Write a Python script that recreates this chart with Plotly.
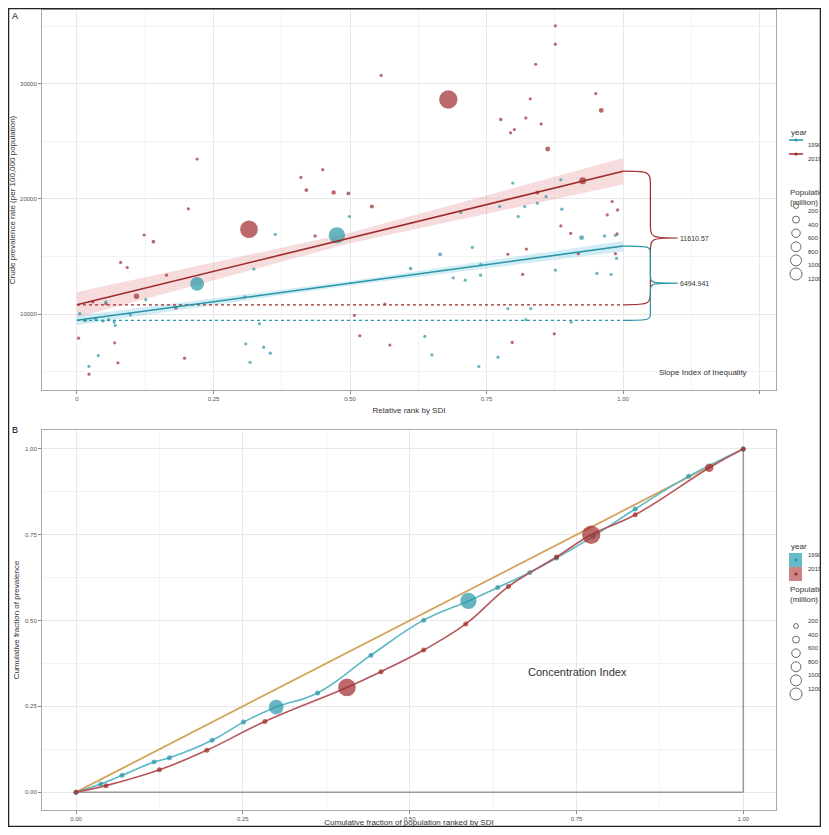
import plotly.graph_objects as go

# ---------------- data: panel A (rank, prevalence, population in million) ----------------
x19 = [0.68, 0.315, 0.926, 0.96, 0.862, 0.776, 0.47, 0.497, 0.42, 0.54, 0.45, 0.41, 0.436, 0.14, 0.109,
       0.181, 0.204, 0.22, 0.99, 0.98, 0.886, 0.904, 0.843, 0.816, 0.789, 0.986, 0.918, 0.518, 0.573,
       0.564, 0.508, 0.069, 0.075, 0.022, 0.197, 0.874, 0.797, 0.822, 0.83, 0.794, 0.801, 0.85, 0.95,
       0.557, 0.876, 0.876, 0.84, 0.003, 0.029, 0.053, 0.092, 0.08, 0.123, 0.164, 0.989, 0.823, 0.971]
y19 = [28630, 17360, 21570, 27680, 24330, 26890, 20550, 20470, 20760, 19330, 22530, 21860, 16770, 16280,
       11540, 10550, 19130, 23460, 19040, 19770, 17650, 17000, 20550, 13440, 15190, 15240, 15240, 8110,
       7300, 10870, 9880, 7500, 5760, 4770, 6160, 8280, 7530, 27030, 28690, 25730, 26020, 26510, 29140,
       30720, 35030, 33430, 31690, 7900, 11050, 10900, 14040, 14480, 16860, 13370, 16950, 15640, 18600]
p19 = [1400, 1300, 200, 100, 100, 50, 80, 60, 60, 70, 30, 30, 50, 60, 120, 60, 20, 10, 40, 20, 30, 20,
       60, 40, 20, 20, 20, 40, 30, 30, 10, 20, 15, 10, 10, 20, 10, 10, 10, 10, 10, 10, 10, 5, 5, 5, 5,
       15, 30, 30, 20, 20, 20, 20, 20, 20, 20]

x90 = [0.476, 0.22, 0.924, 0.966, 0.843, 0.798, 0.665, 0.611, 0.739, 0.689, 0.711, 0.724, 0.774, 0.82,
       0.808, 0.888, 0.876, 0.988, 0.952, 0.126, 0.098, 0.015, 0.034, 0.048, 0.058, 0.068, 0.005, 0.07,
       0.053, 0.324, 0.309, 0.342, 0.354, 0.317, 0.334, 0.363, 0.637, 0.65, 0.736, 0.039, 0.022, 0.789,
       0.822, 0.905, 0.739, 0.831, 0.771, 0.859, 0.886, 0.986, 0.978, 0.703, 0.499, 0.307]
y90 = [16830, 12620, 16630, 16770, 19620, 21370, 15170, 13950, 13370, 13140, 12940, 15780, 19330, 19330,
       18460, 19100, 13810, 14830, 13520, 11250, 9940, 9450, 9590, 9390, 9510, 9300, 10030, 9010, 11050,
       13900, 7410, 7120, 6600, 5810, 9160, 16920, 8050, 6450, 5440, 6390, 5460, 10470, 9510, 9300, 14300,
       10470, 6250, 20200, 21660, 16830, 13430, 18810, 18460, 11480]
p90 = [1100, 800, 100, 50, 40, 30, 60, 50, 30, 30, 30, 20, 20, 20, 20, 20, 20, 20, 20, 40, 30, 60, 60,
       40, 40, 30, 30, 30, 40, 20, 20, 20, 20, 15, 15, 15, 30, 15, 10, 15, 10, 20, 20, 20, 20, 10, 10, 20,
       10, 15, 15, 15, 10, 10]

# fitted SII lines (value at rank 0 and rank 1) and band half-widths
fit19 = [10800, 22400]
fit90 = [9450, 15900]
band19 = [1100, 450, 1150]
band90 = [400, 200, 450]
sii19 = "11610.57"
sii90 = "6494.941"

# ---------------- data: panel B (cumulative population, cumulative prevalence) ----------------
cx90 = [0, 0.037, 0.069, 0.117, 0.14, 0.204, 0.251, 0.3, 0.362, 0.442, 0.521, 0.588, 0.632, 0.68,
        0.72, 0.775, 0.838, 0.918, 1.0]
cy90 = [0, 0.024, 0.049, 0.088, 0.1, 0.151, 0.204, 0.248, 0.289, 0.399, 0.501, 0.557, 0.596, 0.64,
        0.682, 0.745, 0.825, 0.92, 1.0]
cp90 = [10, 20, 20, 20, 20, 20, 20, 900, 20, 20, 20, 1100, 20, 20, 20, 20, 20, 20, 10]
cx19 = [0, 0.045, 0.125, 0.196, 0.283, 0.406, 0.457, 0.521, 0.584, 0.648, 0.72, 0.772, 0.838, 0.949, 1.0]
cy19 = [0, 0.019, 0.065, 0.122, 0.206, 0.305, 0.351, 0.414, 0.49, 0.599, 0.685, 0.75, 0.808, 0.945, 1.0]
cp19 = [10, 20, 30, 40, 20, 1300, 30, 30, 30, 20, 20, 1400, 20, 300, 10]

legend_sizes = [200, 400, 600, 800, 1000, 1200]

TEAL = "#2795a6"
RED = "#9e2a2b"
SREF = 8.3

# the page body has an 8px margin, so the figure is drawn 8px in from each edge
OFF = 8
W, H = 829 - 2 * OFF, 835 - 2 * OFF
def px(v):
    return (v - OFF) / W
def py(v):
    return 1 - (v - OFF) / H

fig = go.Figure()

# ---- panel A ----
xs = [0, 0.5, 1]
for fit, band, col, fill in [(fit19, band19, RED, "rgba(225,140,140,0.3)"),
                             (fit90, band90, TEAL, "rgba(110,195,225,0.3)")]:
    mid = [fit[0] + (fit[1] - fit[0]) * t for t in xs]
    up = [m + b for m, b in zip(mid, band)]
    lo = [m - b for m, b in zip(mid, band)]
    fig.add_trace(go.Scatter(x=xs + xs[::-1], y=up + lo[::-1], mode="lines", fill="toself",
                             fillcolor=fill, line=dict(width=0), hoverinfo="skip", showlegend=False))
for xv, yv, pv, col in [(x19, y19, p19, RED), (x90, y90, p90, TEAL)]:
    fig.add_trace(go.Scatter(x=xv, y=yv, mode="markers", showlegend=False,
                             marker=dict(color=col, size=pv, sizemode="area", sizeref=SREF, sizemin=1.6,
                                         line=dict(width=0))))
for fit, col in [(fit19, RED), (fit90, TEAL)]:
    fig.add_trace(go.Scatter(x=[0, 1], y=fit, mode="lines", line=dict(color=col, width=1.6),
                             showlegend=False))
    fig.add_trace(go.Scatter(x=[0, 1], y=[fit[0], fit[0]], mode="lines",
                             line=dict(color=col, width=1.2, dash="dot"), showlegend=False))

# braces
shapes = []
for fit, col in [(fit19, RED), (fit90, TEAL)]:
    top, bot = fit[1], fit[0]
    tip = (top + bot) / 2
    r = (top - bot) * 0.12
    path = (f"M 1,{top} C 1.05,{top} 1.05,{top} 1.05,{top - r} L 1.05,{tip + r} "
            f"C 1.05,{tip} 1.05,{tip} 1.1,{tip} C 1.05,{tip} 1.05,{tip} 1.05,{tip - r} "
            f"L 1.05,{bot + r} C 1.05,{bot} 1.05,{bot} 1,{bot}")
    shapes.append(dict(type="path", path=path, xref="x", yref="y", line=dict(color=col, width=1.2)))

annotations = [
    dict(x=1.1, y=(fit19[0] + fit19[1]) / 2, text=sii19, xref="x", yref="y", showarrow=False,
         xanchor="left", font=dict(size=7, color="#333")),
    dict(x=1.1, y=(fit90[0] + fit90[1]) / 2, text=sii90, xref="x", yref="y", showarrow=False,
         xanchor="left", font=dict(size=7, color="#333")),
    dict(x=1.147, y=4940, text="Slope Index of Inequality", xref="x", yref="y", showarrow=False,
         font=dict(size=8, color="#333")),
    dict(x=0.751, y=0.349, text="Concentration Index", xref="x2", yref="y2", showarrow=False,
         font=dict(size=11, color="#333")),
    dict(x=px(10), y=py(9), text="A", xref="paper", yref="paper", showarrow=False, xanchor="left",
         yanchor="top", font=dict(size=9, color="#000")),
    dict(x=px(10), y=py(423), text="B", xref="paper", yref="paper", showarrow=False, xanchor="left",
         yanchor="top", font=dict(size=9, color="#000")),
]

# ---- panel B ----
fig.add_trace(go.Scatter(x=[0, 1], y=[0, 0], xaxis="x2", yaxis="y2", mode="lines",
                         line=dict(color="#999", width=1.5), showlegend=False))
fig.add_trace(go.Scatter(x=[1, 1], y=[0, 1], xaxis="x2", yaxis="y2", mode="lines",
                         line=dict(color="#999", width=1.5), showlegend=False))
fig.add_trace(go.Scatter(x=[0, 1], y=[0, 1], xaxis="x2", yaxis="y2", mode="lines",
                         line=dict(color="#d4a35a", width=1.8), showlegend=False))
for cx, cy, cp, col, lc in [(cx90, cy90, cp90, TEAL, "#5bb8c6"), (cx19, cy19, cp19, RED, "#b5565a")]:
    fig.add_trace(go.Scatter(x=cx, y=cy, xaxis="x2", yaxis="y2", mode="lines",
                             line=dict(color=lc, width=1.6, shape="spline", smoothing=1.2),
                             showlegend=False))
    fig.add_trace(go.Scatter(x=cx, y=cy, xaxis="x2", yaxis="y2", mode="markers", showlegend=False,
                             marker=dict(color=col, size=cp, sizemode="area", sizeref=SREF, sizemin=2.5,
                                         line=dict(width=0))))

# ---- legends (drawn by hand, ggplot style) ----
for off, kind in [(0, "line"), (420, "fill")]:
    annotations.append(dict(x=px(789), y=py(126 + off), text="year", xref="paper", yref="paper",
                            showarrow=False, xanchor="left", font=dict(size=8, color="#333")))
    for i, (lab, col) in enumerate([("1990", TEAL), ("2019", RED)]):
        yy = 140 + off + i * 14
        if kind == "line":
            shapes.append(dict(type="line", xref="paper", yref="paper", x0=px(789), x1=px(803),
                               y0=py(yy), y1=py(yy), line=dict(color=col, width=1.5)))
        else:
            fill = "rgba(90,180,195,0.9)" if i == 0 else "rgba(190,100,100,0.8)"
            shapes.append(dict(type="rect", xref="paper", yref="paper", x0=px(789), x1=px(802),
                               y0=py(yy - 7), y1=py(yy + 7), fillcolor=fill, line=dict(width=0)))
        shapes.append(dict(type="circle", xref="paper", yref="paper", x0=px(794.5), x1=px(797.5),
                           y0=py(yy - 1.5), y1=py(yy + 1.5), fillcolor=col, line=dict(width=0)))
        annotations.append(dict(x=px(806), y=py(yy), text=lab, xref="paper", yref="paper",
                                showarrow=False, xanchor="left", font=dict(size=6, color="#333")))
    annotations.append(dict(x=px(788), y=py(186 + off), text="Population<br>(million)", xref="paper",
                            yref="paper", showarrow=False, xanchor="left", align="left",
                            font=dict(size=8, color="#333")))
    for i, s in enumerate(legend_sizes):
        yy = 206 + off + i * 13.6
        r = (s / SREF) ** 0.5 / 2
        shapes.append(dict(type="circle", xref="paper", yref="paper", x0=px(796 - r), x1=px(796 + r),
                           y0=py(yy - r), y1=py(yy + r), line=dict(color="#444", width=0.8)))
        annotations.append(dict(x=px(806), y=py(yy), text=str(s), xref="paper", yref="paper",
                                showarrow=False, xanchor="left", font=dict(size=6, color="#333")))

# outer frame
shapes.append(dict(type="rect", xref="paper", yref="paper", x0=0, x1=1, y0=0, y1=1,
                   line=dict(color="#222", width=2.5)))

tickfont = dict(size=6, color="#555")
axis_common = dict(showline=True, mirror=True, linecolor="#aaa", linewidth=1, ticks="outside",
                   ticklen=3, tickcolor="#888", gridcolor="#e8e8e8", zeroline=False,
                   tickfont=tickfont, automargin=False)

fig.update_layout(
    width=W, height=H, margin=dict(l=0, r=0, t=0, b=0), plot_bgcolor="white", paper_bgcolor="white",
    font=dict(family="Liberation Sans, Arial", color="#333"),
    shapes=shapes, annotations=annotations,
    xaxis=dict(domain=[px(42), px(776)], range=[-0.064, 1.28], tickvals=[0, 0.25, 0.5, 0.75, 1, 1.25],
               ticktext=["0", "0.25", "0.50", "0.75", "1.00", ""], minor=dict(dtick=0.125, showgrid=True,
               gridcolor="#f3f3f3"), anchor="y",
               title=dict(text="Relative rank by SDI", font=dict(size=8), standoff=6), **axis_common),
    yaxis=dict(domain=[py(390), py(10)], range=[3400, 36400], tickvals=[10000, 20000, 30000],
               ticktext=["10000", "20000", "30000"],
               minor=dict(dtick=5000, showgrid=True, gridcolor="#f3f3f3"), anchor="x",
               title=dict(text="Crude prevalence rate (per 100,000 population)", font=dict(size=8),
                          standoff=4), **axis_common),
    xaxis2=dict(domain=[px(42), px(776)], range=[-0.051, 1.049], tickvals=[0, 0.25, 0.5, 0.75, 1],
                ticktext=["0.00", "0.25", "0.50", "0.75", "1.00"], minor=dict(dtick=0.125, showgrid=True,
                gridcolor="#f3f3f3"), anchor="y2",
                title=dict(text="Cumulative fraction of population ranked by SDI", font=dict(size=8),
                           standoff=2), **axis_common),
    yaxis2=dict(domain=[py(810), py(430)], range=[-0.052, 1.055], tickvals=[0, 0.25, 0.5, 0.75, 1],
                ticktext=["0.00", "0.25", "0.50", "0.75", "1.00"], minor=dict(dtick=0.125, showgrid=True,
                gridcolor="#f3f3f3"), anchor="x2",
                title=dict(text="Cumulative fraction of prevalence", font=dict(size=8), standoff=4),
                **axis_common),
)

fig.write_html("out.html")
